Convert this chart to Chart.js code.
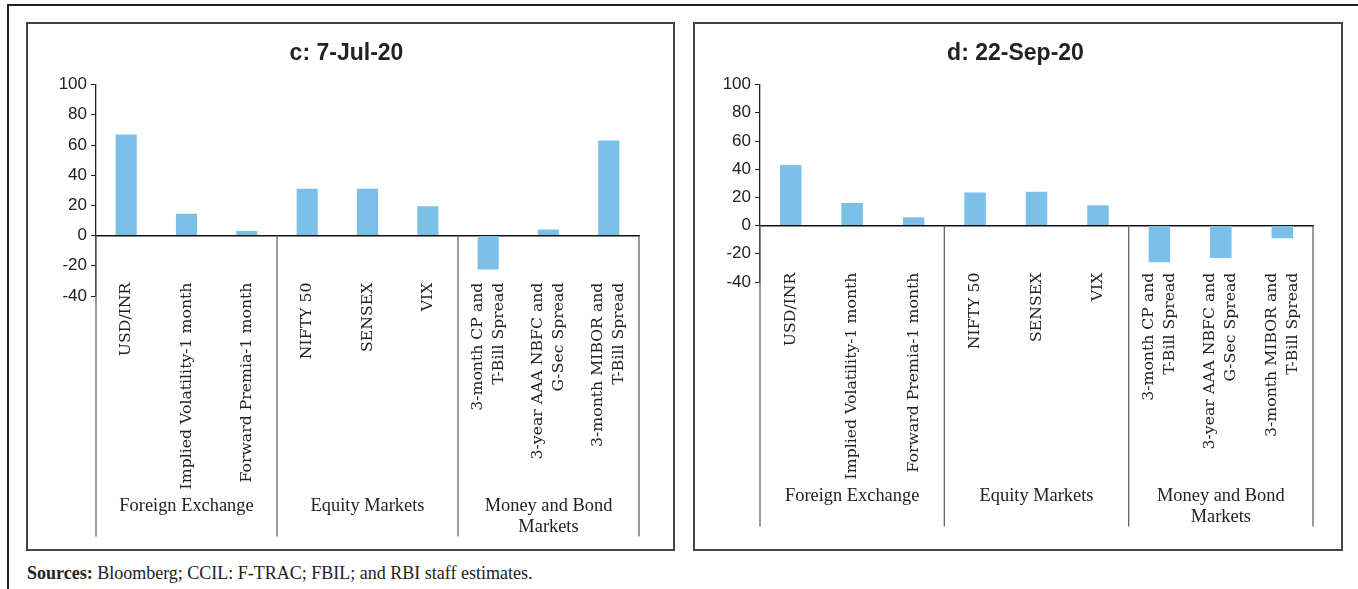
<!DOCTYPE html>
<html>
<head>
    <title></title>
    <meta charset="utf-8" />
    <style>
        body { margin: 0; width: 1358px; height: 589px; background: #fff; position: relative; overflow: hidden; }
        .frame { position: absolute; left: 7px; top: 4px; width: 1360px; height: 600px; border-top: 2px solid #222; border-left: 2px solid #222; box-sizing: border-box; }
        .box { position: absolute; top: 22px; height: 529px; border: 2px solid #444; box-sizing: border-box; }
        canvas { position: absolute; top: 23px; }
        .src { position: absolute; left: 27px; top: 563px; font: 18px "Liberation Serif", serif; color: #222; }
    </style>
    <script src="https://cdn.jsdelivr.net/npm/chart.js"></script>
</head>
<body>
    <div class="frame"></div>
    <div class="box" style="left:26px;width:649px"></div>
    <div class="box" style="left:693px;width:650px"></div>
    <canvas id="chartC" width="647" height="528" style="left:27px"></canvas>
    <canvas id="chartD" width="648" height="528" style="left:694px"></canvas>
    <div class="src"><b>Sources:</b> Bloomberg; CCIL: F-TRAC; FBIL; and RBI staff estimates.</div>
<script>
const categories = [
    ['USD/INR'],
    ['Implied Volatility-1 month'],
    ['Forward Premia-1 month'],
    ['NIFTY 50'],
    ['SENSEX'],
    ['VIX'],
    ['3-month CP and', 'T-Bill Spread'],
    ['3-year AAA NBFC and', 'G-Sec Spread'],
    ['3-month MIBOR and', 'T-Bill Spread']
];
const groups = [['Foreign Exchange'], ['Equity Markets'], ['Money and Bond', 'Markets']];
const groupSizes = [3, 3, 3];
const valuesJul = [67, 14.5, 3, 31, 31, 19.5, -22.5, 4, 63];
const valuesSep = [43, 16, 6, 23.5, 24, 14.5, -26, -23, -9];
const yMin = -40, yMax = 100, yStep = 20;

// draws the two-level category labels below the zero line, like Excel does
const groupAxis = {
    id: 'groupAxis',
    afterDraw(chart) {
        const ctx = chart.ctx;
        const x = chart.scales.x, y = chart.scales.y;
        const zeroY = y.getPixelForValue(0);
        ctx.save();
        ctx.fillStyle = '#222';
        ctx.font = '15.7px "DejaVu Serif"';
        ctx.textAlign = 'right';
        ctx.textBaseline = 'middle';
        categories.forEach((lines, i) => {
            const cx = x.getPixelForValue(i);
            lines.forEach((line, j) => {
                ctx.save();
                ctx.translate(cx + (j - (lines.length - 1) / 2) * 21, zeroY + 47);
                ctx.rotate(-Math.PI / 2);
                ctx.fillText(line, 0, 0);
                ctx.restore();
            });
        });
        // separators
        let edges = [x.left];
        let k = 0;
        groupSizes.forEach(n => {
            k += n;
            edges.push(k < categories.length ? (x.getPixelForValue(k - 1) + x.getPixelForValue(k)) / 2 : x.right);
        });
        ctx.strokeStyle = '#666';
        ctx.lineWidth = 1.3;
        edges.forEach(ex => {
            ctx.beginPath();
            ctx.moveTo(ex, zeroY);
            ctx.lineTo(ex, zeroY + 301);
            ctx.stroke();
        });
        ctx.font = '18.4px "Liberation Serif"';
        ctx.textAlign = 'center';
        groups.forEach((lines, g) => {
            const gx = (edges[g] + edges[g + 1]) / 2;
            lines.forEach((line, j) => ctx.fillText(line, gx, zeroY + 271 + j * 21));
        });
        ctx.restore();
    }
};

function makeChart(id, title, values, pad) {
    return new Chart(document.getElementById(id).getContext('2d'), {
        type: 'bar',
        data: {
            labels: categories,
            datasets: [{
                data: values,
                backgroundColor: '#7BC0E7',
                barPercentage: 0.35,
                categoryPercentage: 1
            }]
        },
        options: {
            responsive: false,
            animation: false,
            layout: { padding: pad },
            plugins: {
                legend: { display: false },
                tooltip: { enabled: false },
                title: {
                    display: true,
                    text: title,
                    color: '#222',
                    font: { family: '"Liberation Sans"', size: 23, weight: 'bold', lineHeight: 1.2 },
                    padding: { top: 17, bottom: 17 }
                }
            },
            scales: {
                x: {
                    position: { y: 0 },
                    ticks: { display: false },
                    grid: { display: false },
                    border: { color: '#111', width: 1.5 }
                },
                y: {
                    min: yMin,
                    max: yMax,
                    ticks: {
                        stepSize: yStep,
                        color: '#222',
                        padding: 4,
                        font: { family: '"Liberation Sans"', size: 17 }
                    },
                    grid: { drawOnChartArea: false, tickLength: 5, color: '#222', lineWidth: 1 },
                    border: { color: '#222', width: 1.3 },
                    afterFit(scale) { scale.width = 42; }
                }
            }
        },
        plugins: [groupAxis]
    });
}

makeChart('chartC', 'c: 7-Jul-20', valuesJul, { left: 27, right: 35, top: 0, bottom: 255 });
makeChart('chartD', 'd: 22-Sep-20', valuesSep, { left: 24, right: 29, top: 0, bottom: 269 });
</script>
</body>
</html>
